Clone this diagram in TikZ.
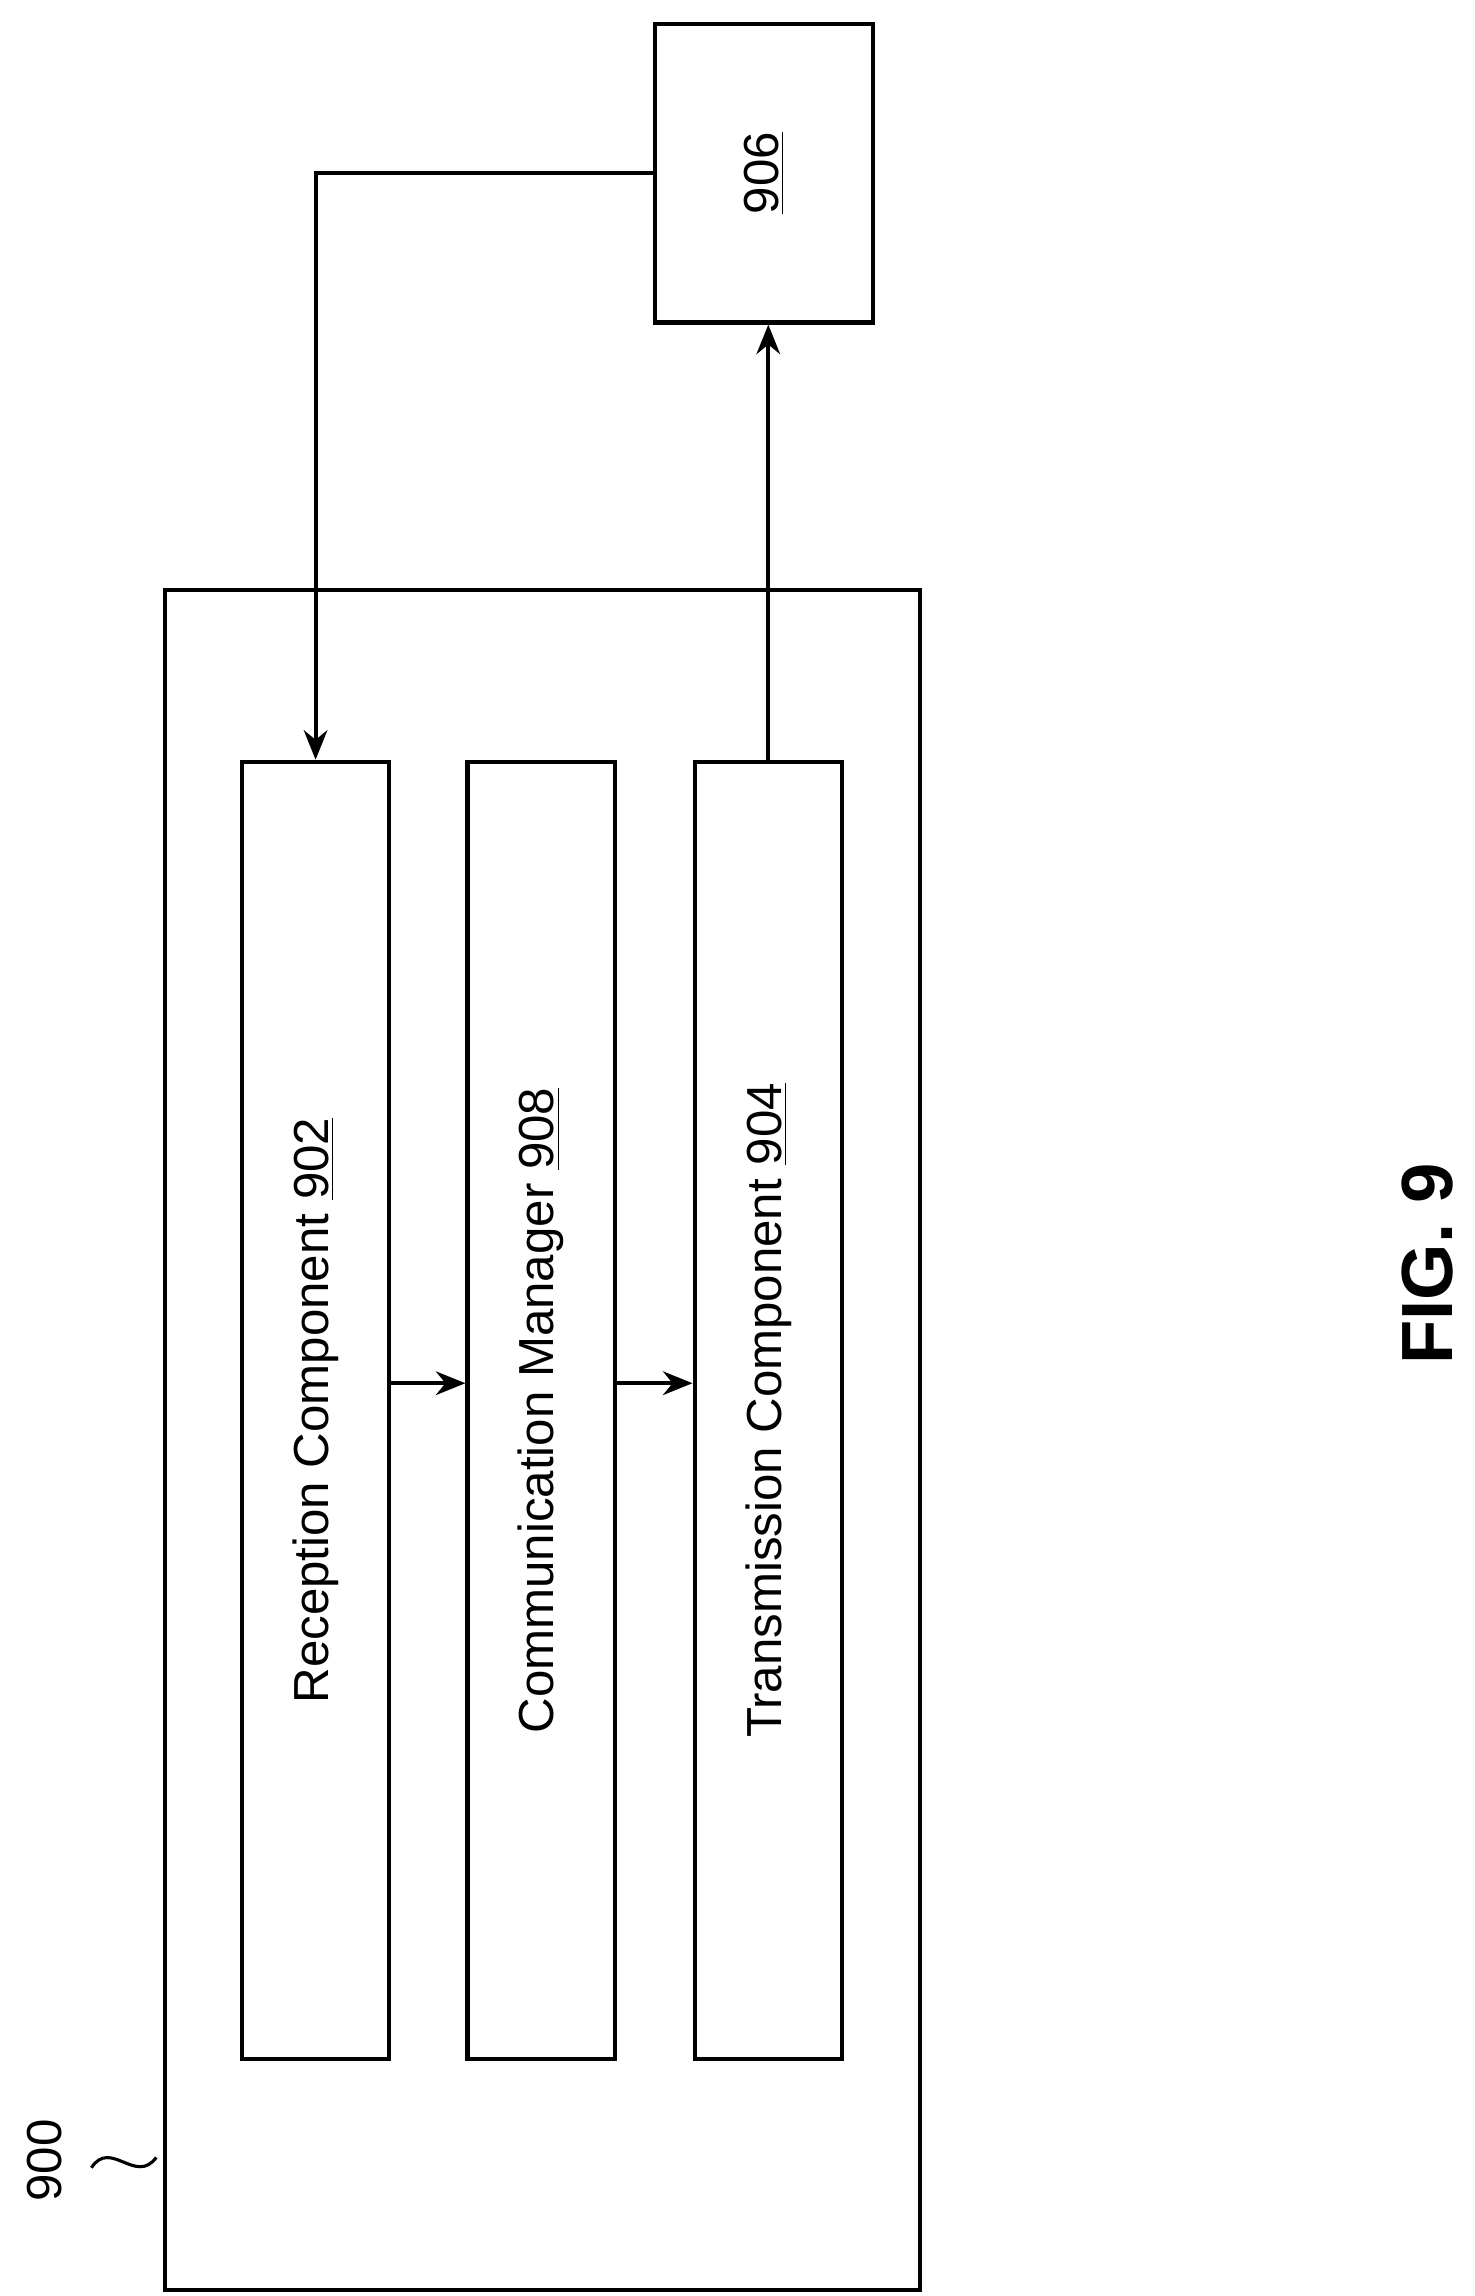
\documentclass[tikz,border=0pt]{standalone}
\usepackage{fontspec}
\setmainfont{Liberation Sans}
\usetikzlibrary{positioning, arrows.meta, calc}
\tikzset{
    block/.style={
        draw, line width=1.6pt, rectangle, inner sep=0pt,
        minimum width=2.0cm, minimum height=17.6cm,
        font=\fontsize{19}{22}\selectfont
    },
    flow/.style={
        -{Stealth[length=4mm, width=3.2mm]},
        line width=1.6pt
    }
}
\begin{document}
\begin{tikzpicture}[x=0.02cm, y=-0.02cm]
    \useasboundingbox (0,0) rectangle (1000,1557);

    % Apparatus
    \draw[line width=1.6pt] (112,400) rectangle (624,1553);
    \node[rotate=90, font=\fontsize{19}{22}\selectfont] (lbl900) at (30,1465) {900};
    \coordinate (t1) at (62,1470);
    \coordinate (t2) at (106,1463);
    \draw[line width=1.2pt] (t1) .. controls (75,1450) and (92,1482) .. (t2);

    % Components
    \node[block] (rx) at (214,956.5) {};
    \node[rotate=90, font=\fontsize{19}{22}\selectfont] at (rx) {Reception Component \underline{902}};
    \node[block] (cm) at (367,956.5) {};
    \node[rotate=90, font=\fontsize{19}{22}\selectfont] at (cm) {Communication Manager \underline{908}};
    \node[block] (tx) at (521,956.5) {};
    \node[rotate=90, font=\fontsize{19}{22}\selectfont] at (tx) {Transmission Component \underline{904}};

    % Other device
    \node[draw, line width=1.6pt, inner sep=0pt, minimum width=2.95cm, minimum height=4.05cm] (n906) at (518,117.5) {};
    \node[rotate=90, font=\fontsize{19}{22}\selectfont] at (n906) {\underline{906}};

    % Connectors
    \draw[flow] (n906.west) -| (rx.north);
    \draw[flow] (tx.north) -- (tx.north |- n906.south);
    \draw[flow] (rx.east |- 0,938) -- (cm.west |- 0,938);
    \draw[flow] (cm.east |- 0,938) -- (tx.west |- 0,938);

    % Figure label
    \node[rotate=90, font=\fontsize{28}{32}\selectfont\bfseries] (fig) at (968,857) {FIG. 9};
\end{tikzpicture}
\end{document}
